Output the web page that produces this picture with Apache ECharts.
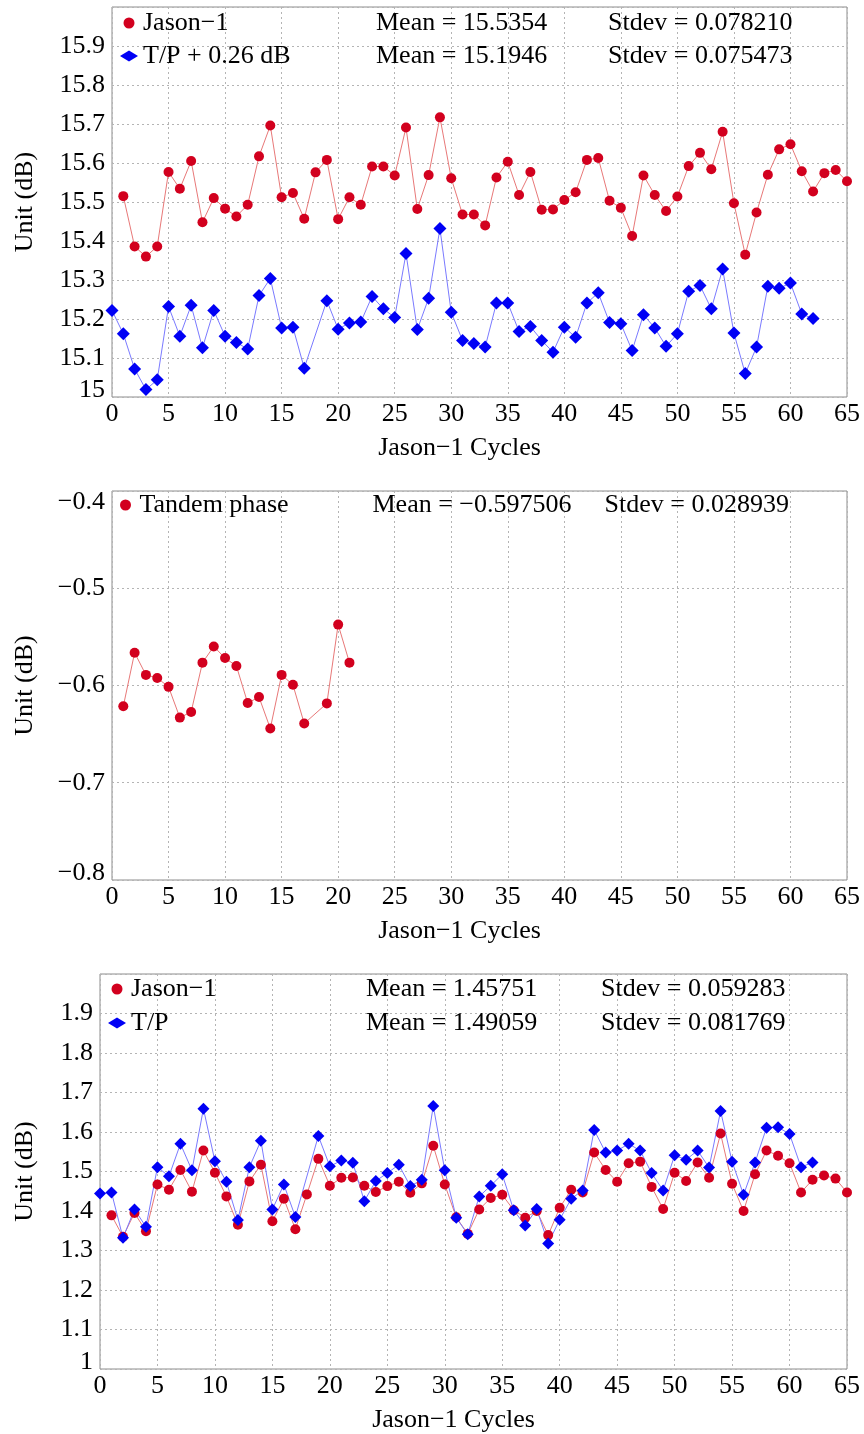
<!DOCTYPE html>
<html>
<head>
<meta charset="utf-8">
<script src="https://cdn.jsdelivr.net/npm/echarts@6/dist/echarts.min.js"></script>
<style>
  html, body { margin: 0; padding: 0; background: #fff; }
  #chart-container { width: 864px; height: 1434px; }
</style>
</head>
<body>
<div id="chart-container"></div>
<script>
// ---- data ----
// top panel: Jason-1 from cycle 1, T/P (+0.26 dB) from cycle 0 (no cycle 18)
var jasonTop = [15.515, 15.386, 15.360, 15.386, 15.577, 15.534, 15.605, 15.448, 15.510, 15.483,
  15.463, 15.493, 15.617, 15.696, 15.512, 15.523, 15.457, 15.576, 15.608, 15.456,
  15.512, 15.493, 15.591, 15.591, 15.568, 15.691, 15.482, 15.569, 15.717, 15.561,
  15.468, 15.468, 15.440, 15.563, 15.603, 15.518, 15.577, 15.480, 15.481, 15.505,
  15.525, 15.608, 15.613, 15.503, 15.485, 15.413, 15.568, 15.518, 15.477, 15.514,
  15.592, 15.626, 15.584, 15.680, 15.497, 15.365, 15.473, 15.570, 15.635, 15.648,
  15.579, 15.527, 15.574, 15.582, 15.553];
var tpTop = [15.222, 15.162, 15.072, 15.019, 15.044, 15.232, 15.156, 15.235, 15.126, 15.222,
  15.156, 15.140, 15.123, 15.260, 15.304, 15.177, 15.179, 15.074, null, 15.247,
  15.174, 15.190, 15.192, 15.258, 15.226, 15.204, 15.368, 15.173, 15.253, 15.432,
  15.217, 15.145, 15.137, 15.128, 15.241, 15.241, 15.168, 15.181, 15.145, 15.115,
  15.179, 15.153, 15.241, 15.267, 15.191, 15.188, 15.119, 15.211, 15.177, 15.130,
  15.162, 15.271, 15.286, 15.226, 15.328, 15.164, 15.060, 15.128, 15.284, 15.279,
  15.292, 15.213, 15.201];

// middle panel: tandem phase from cycle 1 (no cycle 18)
var tandem = [-0.6214, -0.5663, -0.5891, -0.5922, -0.6014, -0.6330, -0.6272, -0.5765, -0.5599, -0.5718,
  -0.5799, -0.6180, -0.6119, -0.6442, -0.5891, -0.5993, -0.6391, null, -0.6184, -0.5374, -0.5765];

// bottom panel
var jasonBot = [1.389, 1.335, 1.395, 1.349, 1.467, 1.454, 1.504, 1.449, 1.553, 1.497,
  1.437, 1.365, 1.475, 1.517, 1.374, 1.431, 1.354, 1.442, 1.532, 1.464,
  1.484, 1.485, 1.464, 1.448, 1.463, 1.474, 1.446, 1.470, 1.565, 1.467,
  1.384, 1.342, 1.404, 1.433, 1.441, 1.402, 1.383, 1.400, 1.339, 1.408,
  1.454, 1.447, 1.548, 1.504, 1.474, 1.521, 1.525, 1.461, 1.405, 1.497,
  1.476, 1.523, 1.484, 1.596, 1.469, 1.400, 1.493, 1.553, 1.540, 1.521,
  1.447, 1.479, 1.490, 1.482, 1.447];
var tpBot = [1.444, 1.447, 1.332, 1.404, 1.360, 1.511, 1.488, 1.570, 1.503, 1.659,
  1.526, 1.474, 1.377, 1.511, 1.578, 1.404, 1.467, 1.385, null, 1.590,
  1.513, 1.528, 1.522, 1.425, 1.476, 1.496, 1.517, 1.463, 1.479, 1.666,
  1.503, 1.383, 1.341, 1.437, 1.464, 1.493, 1.402, 1.363, 1.405, 1.318,
  1.378, 1.431, 1.452, 1.605, 1.548, 1.553, 1.570, 1.553, 1.496, 1.452,
  1.541, 1.530, 1.553, 1.510, 1.653, 1.525, 1.441, 1.523, 1.611, 1.612,
  1.595, 1.511, 1.523];

// legend labels and statistics
var namesTop = ['Jason\u22121', 'T/P + 0.26 dB'];
var meansTop = ['Mean = 15.5354', 'Mean = 15.1946'];
var stdevsTop = ['Stdev = 0.078210', 'Stdev = 0.075473'];
var namesMid = ['Tandem phase'];
var meansMid = ['Mean = \u22120.597506'];
var stdevsMid = ['Stdev = 0.028939'];
var namesBot = ['Jason\u22121 ', 'T/P'];
var meansBot = ['Mean = 1.45751', 'Mean = 1.49059'];
var stdevsBot = ['Stdev = 0.059283', 'Stdev = 0.081769'];

var xLabel = 'Jason\u22121 Cycles';
var yLabel = 'Unit (dB)';

// ---- chart ----
var FONT = 'Liberation Serif';
var FS = 26;
var RED = '#d2001e', RED_LINE = '#e87878';
var BLUE = '#0000f5', BLUE_LINE = '#7a7aff';

function pairs(values, start) {
  return values.map(function (v, i) { return [start + i, v]; })
    .filter(function (p) { return p[1] !== null; });
}

function legendFor(names, means, stdevs, left, top, gap, nameW, meanW) {
  return {
    orient: 'vertical', left: left, top: top, padding: 0,
    itemWidth: 18, itemHeight: 11, itemGap: gap,
    selectedMode: false,
    data: names.map(function (n, i) { return { name: n, icon: i === 0 ? 'circle' : 'diamond' }; }),
    formatter: function (name) {
      var i = names.indexOf(name);
      return '{n|' + name + '}{m|' + means[i] + '}{s|' + stdevs[i] + '}';
    },
    textStyle: {
      fontFamily: FONT, fontSize: FS, color: '#000',
      rich: {
        n: { width: nameW, fontFamily: FONT, fontSize: FS, color: '#000' },
        m: { width: meanW, fontFamily: FONT, fontSize: FS, color: '#000' },
        s: { fontFamily: FONT, fontSize: FS, color: '#000' }
      }
    }
  };
}

function xAxisFor(gi) {
  return {
    type: 'value', gridIndex: gi, min: 0, max: 65, interval: 5,
    name: xLabel, nameLocation: 'middle', nameGap: 38,
    nameTextStyle: { fontFamily: FONT, fontSize: FS, color: '#000', padding: [0, 40, 0, 0] },
    axisLine: { show: false }, axisTick: { show: false },
    axisLabel: { fontFamily: FONT, fontSize: FS, color: '#000', margin: 4 },
    splitLine: { show: true, lineStyle: { color: '#b4b4b4', type: [2, 3], width: 1 } }
  };
}

function yAxisFor(gi, min, max, gap, showMax, fmt) {
  return {
    type: 'value', gridIndex: gi, min: min, max: max, interval: 0.1,
    name: yLabel, nameLocation: 'middle', nameGap: gap,
    nameTextStyle: { fontFamily: FONT, fontSize: FS, color: '#000' },
    axisLine: { show: false }, axisTick: { show: false },
    axisLabel: {
      fontFamily: FONT, fontSize: FS, color: '#000', margin: 7,
      showMaxLabel: showMax,
      verticalAlignMinLabel: 'bottom', verticalAlignMaxLabel: 'top',
      formatter: function (v) {
        var s = fmt(v);
        if (Math.abs(v - min) < 1e-9) return '{lo|' + s + '}';
        if (Math.abs(v - max) < 1e-9) return '{hi|' + s + '}';
        return s;
      },
      rich: {
        lo: { fontFamily: FONT, fontSize: FS, color: '#000', lineHeight: 14 },
        hi: { fontFamily: FONT, fontSize: FS, color: '#000', lineHeight: 22 }
      }
    },
    splitLine: { show: true, lineStyle: { color: '#b4b4b4', type: [2, 3], width: 1 } }
  };
}

function lineSeries(name, data, gi, isRed, size) {
  return {
    type: 'line', name: name, xAxisIndex: gi, yAxisIndex: gi,
    data: data, symbol: isRed ? 'circle' : 'diamond', symbolSize: size,
    showAllSymbol: true, clip: false,
    itemStyle: { color: isRed ? RED : BLUE },
    lineStyle: { color: isRed ? RED_LINE : BLUE_LINE, width: 1 },
    emphasis: { disabled: true }
  };
}

var fmtPlain = function (v) { return String(+v.toFixed(1)); };
var fmtMinus = function (v) { return v.toFixed(1).replace('-', '\u2212'); };

var dom = document.getElementById('chart-container');
var myChart = echarts.init(dom, null, { renderer: 'canvas' });

var gridStyle = { show: true, borderColor: '#8c8c8c', borderWidth: 1, backgroundColor: 'transparent' };

var option = {
  animation: false,
  backgroundColor: '#fff',
  grid: [
    Object.assign({ left: 112, right: 17, top: 7, height: 390 }, gridStyle),
    Object.assign({ left: 112, right: 17, top: 491, height: 389 }, gridStyle),
    Object.assign({ left: 100, right: 17, top: 974, height: 396 }, gridStyle)
  ],
  legend: [
    legendFor(namesTop, meansTop, stdevsTop, 120, 10, 7, 233, 232),
    legendFor(namesMid, meansMid, stdevsMid, 120, 492, 7, 233, 232),
    legendFor(namesBot, meansBot, stdevsBot, 108, 976, 8, 235, 235)
  ],
  xAxis: [xAxisFor(0), xAxisFor(1), xAxisFor(2)],
  yAxis: [
    yAxisFor(0, 15, 16, 74, false, fmtPlain),
    yAxisFor(1, -0.8, -0.4, 74, true, fmtMinus),
    yAxisFor(2, 1, 2, 62, false, fmtPlain)
  ],
  series: [
    lineSeries(namesTop[0], pairs(jasonTop, 1), 0, true, 10),
    lineSeries(namesTop[1], pairs(tpTop, 0), 0, false, 13),
    lineSeries(namesMid[0], pairs(tandem, 1), 1, true, 10),
    lineSeries(namesBot[0], pairs(jasonBot, 1), 2, true, 10),
    lineSeries(namesBot[1], pairs(tpBot, 0), 2, false, 12)
  ]
};

myChart.setOption(option);
window.addEventListener('resize', myChart.resize);
</script>
</body>
</html>
